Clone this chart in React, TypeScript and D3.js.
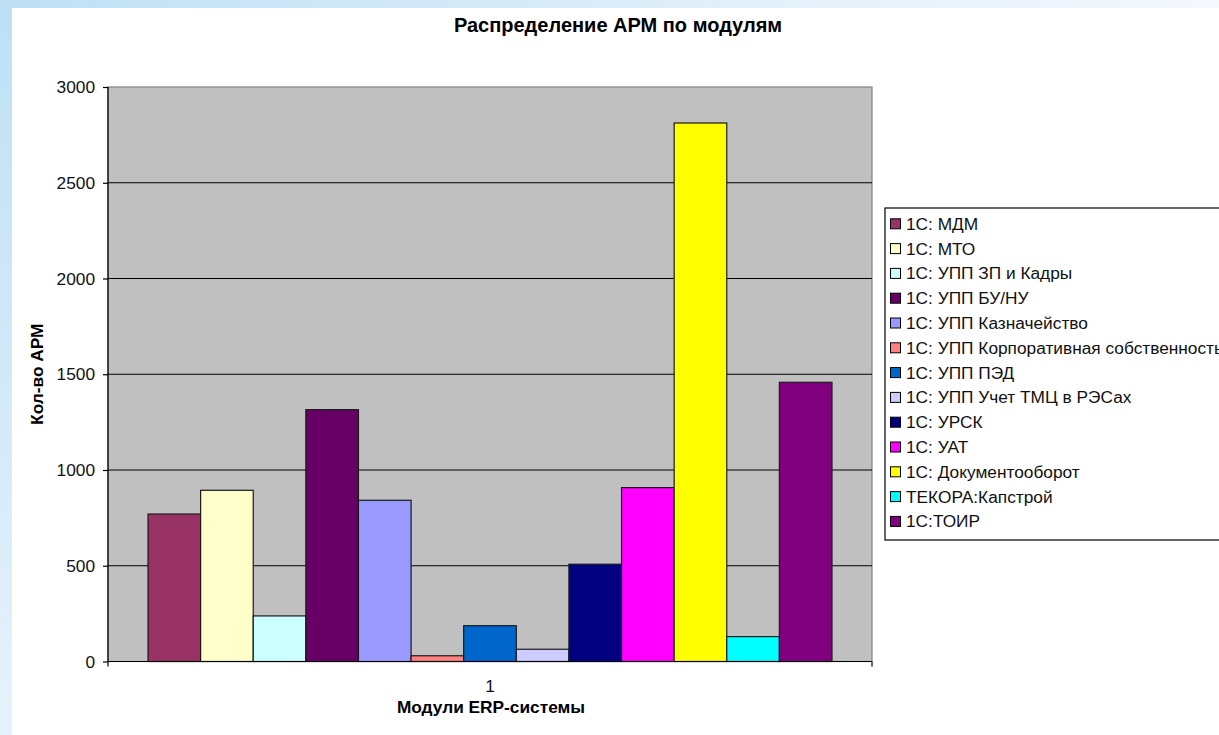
import React, { useEffect, useRef } from "react";
import * as d3 from "d3";

const title = "Распределение АРМ по модулям";
const yTitle = "Кол-во АРМ";
const xTitle = "Модули ERP-системы";
const categories = ["1"];
const seriesNames = [
  "1С: МДМ",
  "1С: МТО",
  "1С: УПП ЗП и Кадры",
  "1С: УПП БУ/НУ",
  "1С: УПП Казначейство",
  "1С: УПП Корпоративная собственность",
  "1С: УПП ПЭД",
  "1С: УПП Учет ТМЦ в РЭСах",
  "1С: УРСК",
  "1С: УАТ",
  "1С: Документооборот",
  "ТЕКОРА:Капстрой",
  "1С:ТОИР",
];
const seriesValues = [770, 894, 238, 1315, 842, 30, 187, 64, 508, 908, 2812, 130, 1458];
const seriesColors = [
  "#993366", "#FFFFCC", "#CCFFFF", "#660066", "#9999FF", "#FF8080", "#0066CC",
  "#CCCCFF", "#000080", "#FF00FF", "#FFFF00", "#00FFFF", "#800080",
];
const yTicks = [0, 500, 1000, 1500, 2000, 2500, 3000];

const W = 1219;
const H = 735;
const FONT = "'Liberation Sans', Arial, sans-serif";
const FS = 17.3;

export default function App() {
  const ref = useRef<SVGSVGElement>(null);

  useEffect(() => {
    const svg = d3.select(ref.current);
    svg.selectAll("*").remove();

    // фон: голубая рамка-градиент и белая подложка
    const defs = svg.append("defs");
    const grad = defs.append("linearGradient")
      .attr("id", "bg").attr("x1", 0).attr("y1", 0).attr("x2", 1).attr("y2", 0.7);
    grad.append("stop").attr("offset", "0%").attr("stop-color", "#bde0f6");
    grad.append("stop").attr("offset", "45%").attr("stop-color", "#e4f1fb");
    grad.append("stop").attr("offset", "85%").attr("stop-color", "#ffffff");
    svg.append("rect").attr("width", W).attr("height", H).attr("fill", "url(#bg)");
    svg.append("rect").attr("x", 12).attr("y", 8).attr("width", W - 12).attr("height", H - 8).attr("fill", "#fff");

    const left = 108, right = 872, top = 87, bottom = 661.5;

    const y = d3.scaleLinear().domain([0, 3000]).range([bottom, top]);
    const x0 = d3.scaleBand().domain(categories).range([left, right]).paddingInner(0).paddingOuter(0.0585);
    const x1 = d3.scaleBand().domain(seriesNames).range([0, x0.bandwidth()]).padding(0);

    // область построения
    svg.append("rect")
      .attr("x", left).attr("y", top).attr("width", right - left).attr("height", bottom - top)
      .attr("fill", "#C0C0C0").attr("stroke", "#808080").attr("stroke-width", 1.2);

    svg.append("g").selectAll("line")
      .data(yTicks.filter((t) => t > 0 && t < 3000))
      .join("line")
      .attr("x1", left).attr("x2", right)
      .attr("y1", (d) => y(d)).attr("y2", (d) => y(d))
      .attr("stroke", "#000").attr("stroke-width", 1.2);

    // столбцы
    const g = svg.append("g").attr("transform", `translate(${x0(categories[0])},0)`);
    g.selectAll("rect")
      .data(seriesValues)
      .join("rect")
      .attr("x", (d, i) => x1(seriesNames[i])!)
      .attr("y", (d) => y(d))
      .attr("width", x1.bandwidth())
      .attr("height", (d) => bottom - y(d))
      .attr("fill", (d, i) => seriesColors[i])
      .attr("stroke", "#1a1a1a")
      .attr("stroke-width", 1.2);

    // оси
    const yAxis = svg.append("g")
      .attr("transform", `translate(${left},0)`)
      .call(d3.axisLeft(y).tickValues(yTicks).tickFormat(d3.format("d")).tickSize(5).tickSizeOuter(0).tickPadding(8));
    yAxis.select(".domain").attr("stroke", "#000").attr("stroke-width", 1.2).attr("d", `M0,${top}V${bottom + 5}`);
    yAxis.selectAll(".tick line").attr("stroke", "#000").attr("stroke-width", 1.2);
    yAxis.selectAll("text").attr("font-family", FONT).attr("font-size", FS).attr("fill", "#111");

    svg.append("line")
      .attr("x1", left).attr("x2", right).attr("y1", bottom).attr("y2", bottom)
      .attr("stroke", "#000").attr("stroke-width", 1.2);
    svg.append("line")
      .attr("x1", right).attr("x2", right).attr("y1", bottom).attr("y2", bottom + 5)
      .attr("stroke", "#000").attr("stroke-width", 1.2);

    svg.append("text")
      .attr("x", x0(categories[0])! + x0.bandwidth() / 2).attr("y", 692)
      .attr("text-anchor", "middle").attr("font-family", FONT).attr("font-size", FS).attr("fill", "#111")
      .text(categories[0]);

    // заголовки
    svg.append("text")
      .attr("x", 618).attr("y", 32).attr("text-anchor", "middle")
      .attr("font-family", FONT).attr("font-size", 20).attr("font-weight", "bold")
      .text(title);
    svg.append("text")
      .attr("x", 491).attr("y", 713).attr("text-anchor", "middle")
      .attr("font-family", FONT).attr("font-size", FS).attr("font-weight", "bold")
      .text(xTitle);
    svg.append("text")
      .attr("transform", `translate(43,${(top + bottom) / 2}) rotate(-90)`)
      .attr("text-anchor", "middle")
      .attr("font-family", FONT).attr("font-size", FS).attr("font-weight", "bold")
      .text(yTitle);

    // легенда
    const legend = svg.append("g");
    legend.append("rect")
      .attr("x", 885).attr("y", 208).attr("width", 360).attr("height", 332)
      .attr("fill", "#fff").attr("stroke", "#000").attr("stroke-width", 1.2);
    const items = legend.selectAll("g.item")
      .data(seriesNames)
      .join("g")
      .attr("class", "item")
      .attr("transform", (d, i) => `translate(0,${223.8 + i * 24.8})`);
    items.append("rect")
      .attr("x", 890.5).attr("y", -5).attr("width", 10).attr("height", 10)
      .attr("fill", (d, i) => seriesColors[i]).attr("stroke", "#000").attr("stroke-width", 1);
    items.append("text")
      .attr("x", 906).attr("y", 6)
      .attr("font-family", FONT).attr("font-size", FS).attr("fill", "#111")
      .text((d) => d);
  }, []);

  return (
    <svg
      ref={ref}
      width={W}
      height={H}
      style={{ position: "absolute", left: 0, top: 0, display: "block" }}
    />
  );
}
